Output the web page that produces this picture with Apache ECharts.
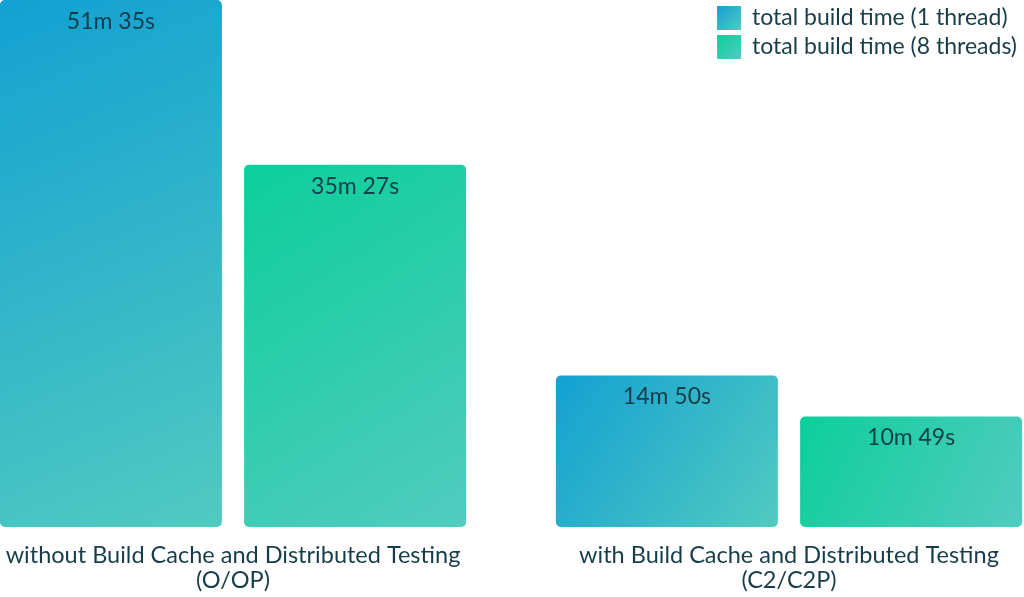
<!DOCTYPE html>
<html>
<head>
<meta charset="utf-8">
<script src="https://cdn.jsdelivr.net/npm/echarts@6/dist/echarts.min.js"></script>
<style>
  html, body { margin: 0; padding: 0; background: #fff; }
  #chart-container { width: 1024px; height: 597px; }
</style>
</head>
<body>
<div id="chart-container"></div>
<script>
// categories (two lines each)
const categories = [
    'without Build Cache and Distributed Testing\n(O/OP)',
    'with Build Cache and Distributed Testing\n(C2/C2P)'
];
const seriesNames = ['total build time (1 thread)', 'total build time (8 threads)'];
// build times in seconds
const oneThread = [51 * 60 + 35, 14 * 60 + 50];
const eightThreads = [35 * 60 + 27, 10 * 60 + 49];

const textColor = '#163d49';

const fmtTime = (sec) => {
    const m = Math.floor(sec / 60);
    const s = sec % 60;
    return m + 'm ' + (s < 10 ? '0' + s : s) + 's';
};

const gradient = (from, to) => new echarts.graphic.LinearGradient(0, 0, 1, 1, [
    { offset: 0, color: from },
    { offset: 1, color: to }
]);

const container = echarts.init(document.getElementById('chart-container'));

const barLabel = {
    show: true,
    position: 'insideTop',
    distance: 10,
    fontFamily: 'Lato',
    fontSize: 23,
    color: textColor,
    formatter: (p) => fmtTime(p.value)
};

container.setOption({
    animation: false,
    legend: {
        orient: 'vertical',
        right: 2,
        top: 1,
        itemWidth: 24,
        itemHeight: 24,
        itemGap: 5,
        icon: 'rect',
        textStyle: { fontFamily: 'Lato', fontSize: 23, color: textColor, padding: [0, 0, 0, 6] }
    },
    // grid overhangs the canvas so the category bands line up with the picture
    grid: { left: -45, right: -43, top: 0, bottom: 70, outerBoundsMode: 'none', containLabel: false },
    xAxis: {
        type: 'category',
        data: categories,
        axisLine: { show: false },
        axisTick: { show: false },
        axisLabel: {
            interval: 0,
            margin: 16,
            fontFamily: 'Lato',
            fontSize: 23.5,
            lineHeight: 25,
            color: textColor
        }
    },
    yAxis: {
        type: 'value',
        min: 0,
        max: 3095,
        show: false,
        splitLine: { show: false }
    },
    series: [
        {
            name: seriesNames[0],
            type: 'bar',
            data: oneThread,
            barWidth: 222,
            barGap: '10%',
            itemStyle: { color: gradient('#12a1d2', '#52cac0'), borderRadius: 5 },
            label: barLabel
        },
        {
            name: seriesNames[1],
            type: 'bar',
            data: eightThreads,
            barWidth: 222,
            itemStyle: { color: gradient('#0ccf9a', '#52cbc1'), borderRadius: 5 },
            label: barLabel
        }
    ]
});
</script>
</body>
</html>
